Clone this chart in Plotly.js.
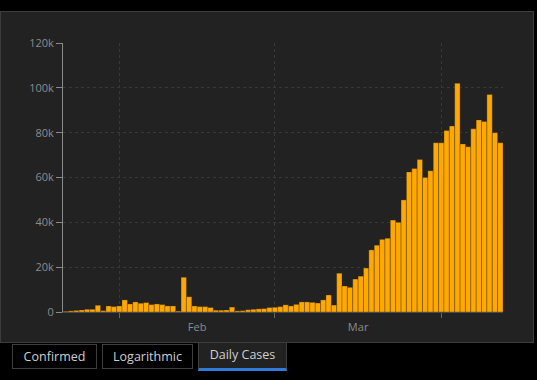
<!DOCTYPE html>
<html>
<head>
<meta charset="utf-8">
<script src="https://cdn.plot.ly/plotly-3.0.1.min.js"></script>
<style>
  html, body { margin:0; padding:0; background:#000; width:537px; height:380px; overflow:hidden; }
  #panel { position:absolute; left:0; top:11px; width:532px; height:330px; border:1px solid #3c3c3c; background:#222; }
  #chart { position:absolute; left:0; top:0; width:532px; height:330px; }
  .tab { position:absolute; top:344px; height:25px; box-sizing:border-box; border:1px solid #3e3e3e; color:#cfcfcf;
         font-family:"Open Sans","Noto Sans",sans-serif; font-size:12.5px; line-height:23px; text-align:center; background:#000; }
  #t3 { background:#222; border-bottom:3px solid #2f7bd9; height:28px; line-height:24px; border-top:none; top:343px; }
</style>
</head>
<body>
<div id="panel"><div id="chart"></div></div>
<div class="tab" id="t1" style="left:12px;width:85px;">Confirmed</div>
<div class="tab" id="t2" style="left:102px;width:91px;">Logarithmic</div>
<div class="tab" id="t3" style="left:198px;width:89px;">Daily Cases</div>
<script>
// Daily new cases, 2020-01-22 .. 2020-04-12
const startDate = '2020-01-22';
const janValues = [300, 500, 700, 900, 1200, 1200, 3000, 600, 2700, 2400];
const febValues = [2700, 5400, 3600, 4500, 3900, 4200, 3300, 3600, 3300, 2700,
                   2700, 400, 15500, 6800, 2700, 2400, 2400, 2000, 800, 800,
                   900, 2200, 500, 600, 1000, 1200, 1400, 1500, 2000];
const marValues = [2100, 2400, 3200, 2700, 3400, 4500, 4500, 4300, 4000, 5400,
                   7600, 3100, 17300, 11600, 11000, 14700, 16000, 19600, 27700, 29800,
                   32400, 32900, 41000, 40000, 50000, 62500, 64000, 68000, 60000, 63000, 75500];
const aprValues = [75500, 81000, 83000, 102000, 75000, 73700, 81700, 85700, 85000, 97000, 80000, 75500];
const yTickVals = [0, 20000, 40000, 60000, 80000, 100000, 120000];
const yTickText = ['0', '20k', '40k', '60k', '80k', '100k', '120k'];

const values = janValues.concat(febValues, marValues, aprValues);
const dates = [];
const d0 = new Date(startDate + 'T00:00:00Z');
for (let i = 0; i < values.length; i++) {
  const d = new Date(d0.getTime() + i * 86400000);
  dates.push(d.toISOString().slice(0, 10));
}

const trace = {
  type: 'bar', x: dates, y: values,
  marker: { color: '#ffa800', line: { color: '#222222', width: 0.3 } },
  hoverinfo: 'x+y'
};

const layout = {
  width: 532, height: 330,
  margin: { l: 62, r: 30, t: 31, b: 30 },
  paper_bgcolor: '#222222', plot_bgcolor: '#222222',
  showlegend: false, bargap: 0,
  font: { family: '"Open Sans","Noto Sans",sans-serif', size: 11, color: '#8c8c8c' },
  xaxis: {
    type: 'date', range: ['2020-01-21 12:00', '2020-04-12 12:00'],
    tick0: '2020-01-01', dtick: 'M1', tickformat: '%b', ticklabelmode: 'period',
    showgrid: true, gridcolor: '#383838', griddash: '3px,3px', gridwidth: 1,
    ticks: 'outside', ticklen: 5, tickcolor: '#666',
    showline: true, linecolor: '#4a4a4a', zeroline: false,
    tickfont: { size: 11, color: '#8c8c8c' }, fixedrange: true
  },
  yaxis: {
    range: [0, 120000], tickvals: yTickVals, ticktext: yTickText,
    showgrid: true, gridcolor: '#383838', griddash: '3px,3px', gridwidth: 1,
    ticks: 'outside', ticklen: 6, tickcolor: '#8a8a8a',
    showline: true, linecolor: '#8a8a8a', zeroline: false,
    tickfont: { size: 11, color: '#8c8c8c' }, fixedrange: true
  }
};

Plotly.newPlot('chart', [trace], layout, { displayModeBar: false, staticPlot: true });
</script>
</body>
</html>
